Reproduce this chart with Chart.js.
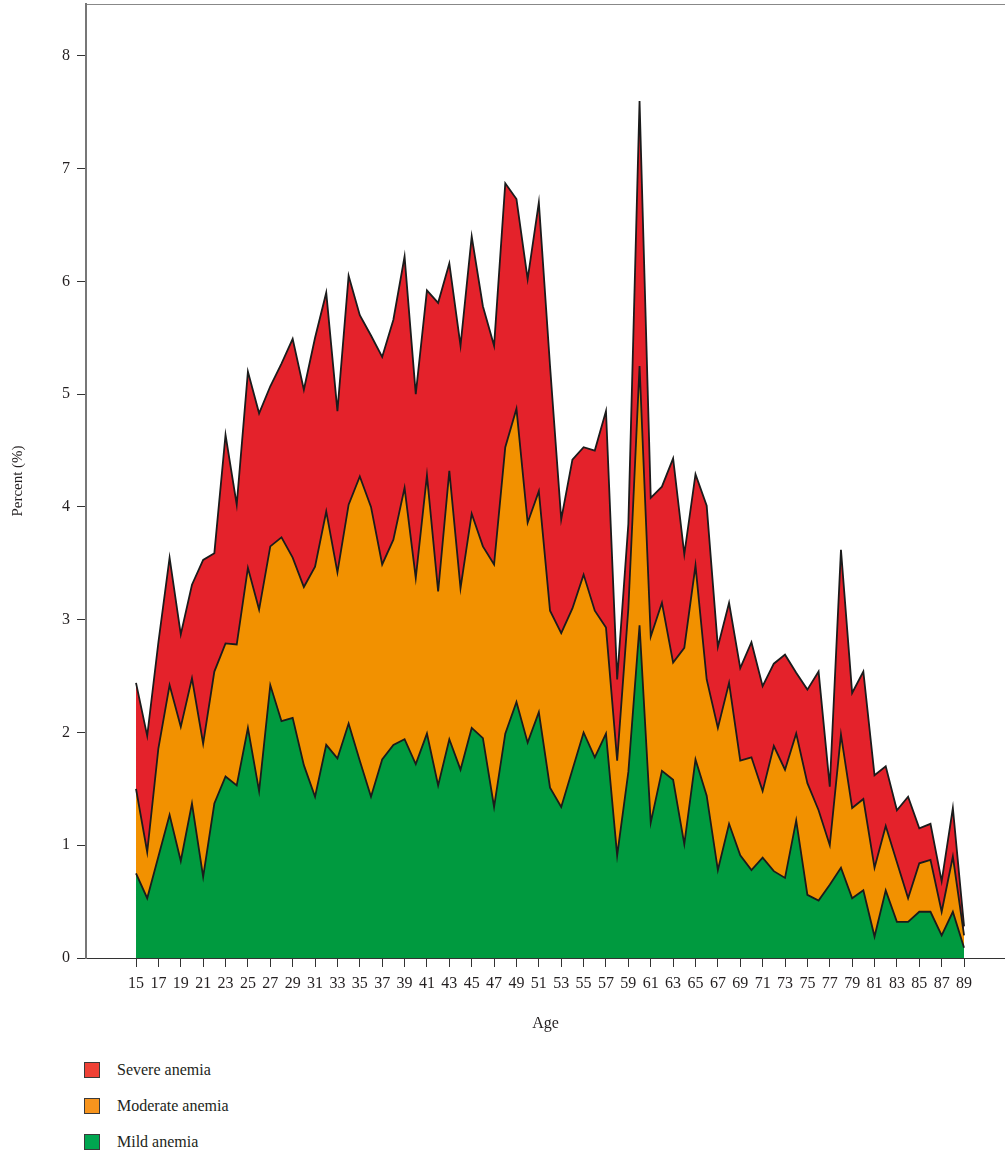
<!DOCTYPE html>
<html lang="en">
<head>
<meta charset="UTF-8">
<title>Anemia prevalence by age</title>
<script src="https://cdn.jsdelivr.net/npm/chart.js@4.4.1/dist/chart.umd.min.js"></script>
<style>
  body { margin: 0; background: #fff; font-family: "Liberation Serif", "DejaVu Serif", serif; }
  #wrap { position: relative; width: 1005px; height: 1151px; }
  #box { position: absolute; left: 0; top: 0; width: 1005px; height: 1045px; }
  #legend { position: absolute; left: 84px; top: 1052px; }
  .item { display: flex; align-items: center; height: 36px; font-size: 16px; color: #231f20; }
  .sw { width: 14px; height: 14px; border: 1.5px solid #3a3a3a; margin-right: 17px; }
</style>
</head>
<body>
<div id="wrap">
  <div id="box"><canvas id="chart"></canvas></div>
  <div id="legend"></div>
</div>
<script>
// ages on the x axis
const ages = [15, 16, 17, 18, 19, 20, 21, 22, 23, 24, 25, 26, 27, 28, 29, 30, 31, 32, 33, 34,
  35, 36, 37, 38, 39, 40, 41, 42, 43, 44, 45, 46, 47, 48, 49, 50, 51, 52, 53, 54,
  55, 56, 57, 58, 59, 60, 61, 62, 63, 64, 65, 66, 67, 68, 69, 70, 71, 72, 73, 74,
  75, 76, 77, 78, 79, 80, 81, 82, 83, 84, 85, 86, 87, 88, 89];

// percent per layer
const mild = [0.75, 0.53, 0.90, 1.27, 0.86, 1.37, 0.72, 1.37, 1.61, 1.53, 2.04, 1.48, 2.42, 2.10, 2.13, 1.71, 1.43, 1.89, 1.77, 2.08,
  1.75, 1.43, 1.76, 1.89, 1.94, 1.72, 1.99, 1.53, 1.94, 1.67, 2.04, 1.95, 1.34, 1.99, 2.27, 1.91, 2.18, 1.51, 1.34, 1.67,
  2.00, 1.78, 1.99, 0.91, 1.65, 2.95, 1.20, 1.66, 1.58, 1.01, 1.76, 1.44, 0.78, 1.19, 0.91, 0.78, 0.89, 0.77, 0.71, 1.22,
  0.56, 0.51, 0.65, 0.80, 0.53, 0.60, 0.19, 0.60, 0.32, 0.32, 0.41, 0.41, 0.20, 0.41, 0.09];
const moderate = [0.75, 0.41, 0.96, 1.15, 1.19, 1.11, 1.18, 1.17, 1.18, 1.25, 1.42, 1.61, 1.23, 1.63, 1.42, 1.58, 2.04, 2.07, 1.65, 1.94,
  2.52, 2.57, 1.73, 1.82, 2.23, 1.65, 2.29, 1.72, 2.38, 1.61, 1.90, 1.70, 2.15, 2.54, 2.60, 1.95, 1.96, 1.57, 1.54, 1.43,
  1.40, 1.30, 0.94, 0.84, 1.45, 2.30, 1.65, 1.49, 1.04, 1.74, 1.72, 1.03, 1.26, 1.25, 0.84, 1.00, 0.59, 1.11, 0.96, 0.77,
  0.99, 0.80, 0.35, 1.18, 0.80, 0.81, 0.61, 0.57, 0.53, 0.21, 0.43, 0.46, 0.21, 0.49, 0.11];
const severe = [0.94, 1.03, 0.94, 1.13, 0.82, 0.83, 1.63, 1.05, 1.85, 1.24, 1.74, 1.74, 1.42, 1.54, 1.94, 1.75, 2.03, 1.94, 1.43, 2.03,
  1.43, 1.52, 1.84, 1.95, 2.05, 1.63, 1.64, 2.56, 1.84, 2.15, 2.46, 2.13, 1.94, 2.34, 1.86, 2.16, 2.56, 2.17, 1.01, 1.32,
  1.13, 1.42, 1.92, 0.72, 0.75, 2.35, 1.23, 1.03, 1.81, 0.83, 0.81, 1.54, 0.72, 0.71, 0.82, 1.02, 0.93, 0.73, 1.02, 0.54,
  0.83, 1.23, 0.52, 1.64, 1.02, 1.13, 0.82, 0.53, 0.46, 0.90, 0.31, 0.32, 0.27, 0.43, 0.08];

const xTicks = [15, 17, 19, 21, 23, 25, 27, 29, 31, 33, 35, 37, 39, 41, 43, 45, 47, 49, 51, 53,
  55, 57, 59, 61, 63, 65, 67, 69, 71, 73, 75, 77, 79, 81, 83, 85, 87, 89];
const yTicks = [0, 1, 2, 3, 4, 5, 6, 7, 8];

const txt = '#231f20';
const tickFont = { family: '"Liberation Serif", "DejaVu Serif", serif', size: 16 };

function layer(label, values, fill, swatch) {
  return {
    label: label,
    data: ages.map((a, i) => ({ x: a, y: values[i] })),
    backgroundColor: fill,
    swatch: swatch,
    borderColor: '#1b1b1b',
    borderWidth: 1.8,
    pointRadius: 0,
    tension: 0,
    fill: fill === '#009a3f' ? 'origin' : '-1'
  };
}

const chart = new Chart(document.getElementById('chart'), {
  type: 'line',
  data: {
    datasets: [
      layer('Mild anemia', mild, '#009a3f', '#00a650'),
      layer('Moderate anemia', moderate, '#f29100', '#f7941d'),
      layer('Severe anemia', severe, '#e4222b', '#ef4136')
    ]
  },
  options: {
    responsive: true,
    maintainAspectRatio: false,
    animation: false,
    layout: { padding: { top: 4, right: 0, left: 0, bottom: 0 } },
    plugins: { legend: { display: false }, tooltip: { enabled: false } },
    scales: {
      x: {
        type: 'linear',
        min: 10.53,
        max: 92.66,
        afterBuildTicks: s => { s.ticks = xTicks.map(v => ({ value: v })); },
        afterFit: s => { s.height = 87; s.paddingLeft = 0; s.paddingRight = 0; },
        ticks: { autoSkip: false, maxRotation: 0, padding: 7, color: txt, font: tickFont },
        grid: { drawOnChartArea: false, tickLength: 9, color: '#333' },
        border: { color: '#333', width: 1 },
        title: { display: true, text: 'Age', color: txt, font: tickFont, padding: { top: 6, bottom: 12 } }
      },
      x2: {
        type: 'linear',
        position: 'top',
        min: 10.53,
        max: 92.66,
        afterFit: s => { s.height = 0; s.paddingLeft = 0; s.paddingRight = 0; },
        ticks: { display: false },
        grid: { display: false },
        border: { color: '#888', width: 1 }
      },
      y: {
        stacked: true,
        min: 0,
        max: 8.46,
        afterBuildTicks: s => { s.ticks = yTicks.map(v => ({ value: v })); },
        afterFit: s => { s.width = 86; s.paddingTop = 0; s.paddingBottom = 0; },
        ticks: { padding: 7, color: txt, font: tickFont },
        grid: { drawOnChartArea: false, tickLength: 9, color: '#333' },
        border: { color: '#777', width: 2 },
        title: { display: true, text: 'Percent (%)', color: txt, font: { family: tickFont.family, size: 15 }, padding: { top: 9, bottom: 0 } }
      }
    }
  }
});

// legend, top layer first
const legend = document.getElementById('legend');
chart.data.datasets.slice().reverse().forEach(ds => {
  const row = document.createElement('div');
  row.className = 'item';
  row.innerHTML = '<span class="sw" style="background:' + ds.swatch + '"></span>' + ds.label;
  legend.appendChild(row);
});
</script>
</body>
</html>
